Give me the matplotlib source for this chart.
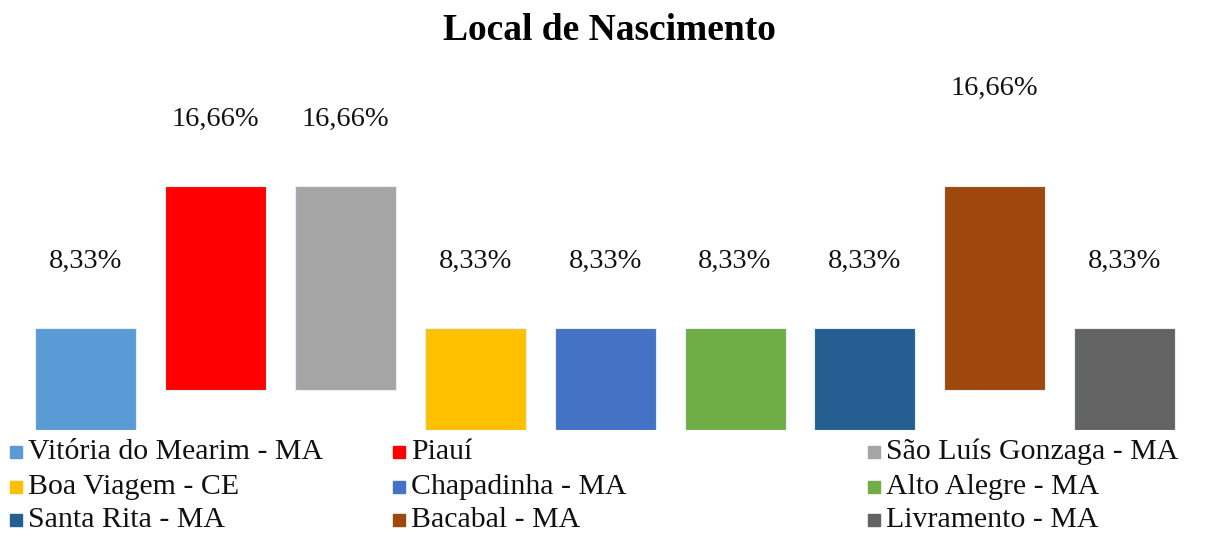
import matplotlib.pyplot as plt
from matplotlib.patches import Rectangle

TITLE = 'Local de Nascimento'

places = ['Vitória do Mearim - MA', 'Piauí', 'São Luís Gonzaga - MA',
          'Boa Viagem - CE', 'Chapadinha - MA', 'Alto Alegre - MA',
          'Santa Rita - MA', 'Bacabal - MA', 'Livramento - MA']
values = [8.33, 16.66, 16.66, 8.33, 8.33, 8.33, 8.33, 16.66, 8.33]
labels = ['8,33%', '16,66%', '16,66%', '8,33%', '8,33%', '8,33%', '8,33%', '16,66%', '8,33%']
# the original chart floats the tall bars a bit above the common baseline
bottoms = [0, 3.3, 3.3, 0, 0, 0, 0, 3.3, 0]
colors = ['#5B9BD5', '#FF0000', '#A5A5A5', '#FFC000', '#4472C4',
          '#70AD47', '#255E91', '#9E480E', '#636363']

plt.rcParams['font.family'] = ['Liberation Serif', 'DejaVu Serif']

fig = plt.figure(figsize=(12.19, 5.34), dpi=100)
W, H = 1219, 534

# axes: pixel y 60..430, x 0..1219
ax = fig.add_axes([0, (H - 430) / H, 1, 370 / H])
px_per_unit = 12.2
ax.set_ylim(0, 370 / px_per_unit)
step = 129.9
x0 = 85.5
ax.set_xlim(-x0 / step, (W - x0) / step)
ax.axis('off')

xs = list(range(len(values)))
bars = ax.bar(xs, values, width=101 / step, bottom=bottoms, color=colors,
              edgecolor='#e8eef5', linewidth=0.8)

for i, b in enumerate(bars):
    top = b.get_y() + b.get_height()
    gap = 98 if i == 7 else 67
    ax.annotate(labels[i], (b.get_x() + b.get_width() / 2, top),
                xytext=(0, gap * 0.72), textcoords='offset points',
                ha='center', va='center', fontsize=20.5, color='#111111')

fig.text(0.5, 1 - 31 / H, TITLE, ha='center', va='center',
         fontsize=27, fontweight='bold')

# legend, three columns laid out row by row like the original
col_x = [10, 393, 868]
row_y = [451, 486, 519]
for k, (name, c) in enumerate(zip(places, colors)):
    r, col = divmod(k, 3)
    mx, my = col_x[col], row_y[r]
    fig.add_artist(Rectangle(((mx) / W, 1 - (my + 7) / H), 12 / W, 12 / H,
                             transform=fig.transFigure, color=c))
    fig.text((mx + 18) / W, 1 - (my + 1) / H, name, ha='left', va='center',
             fontsize=21.5, color='#111111')

fig.savefig('out.png', dpi=100)
